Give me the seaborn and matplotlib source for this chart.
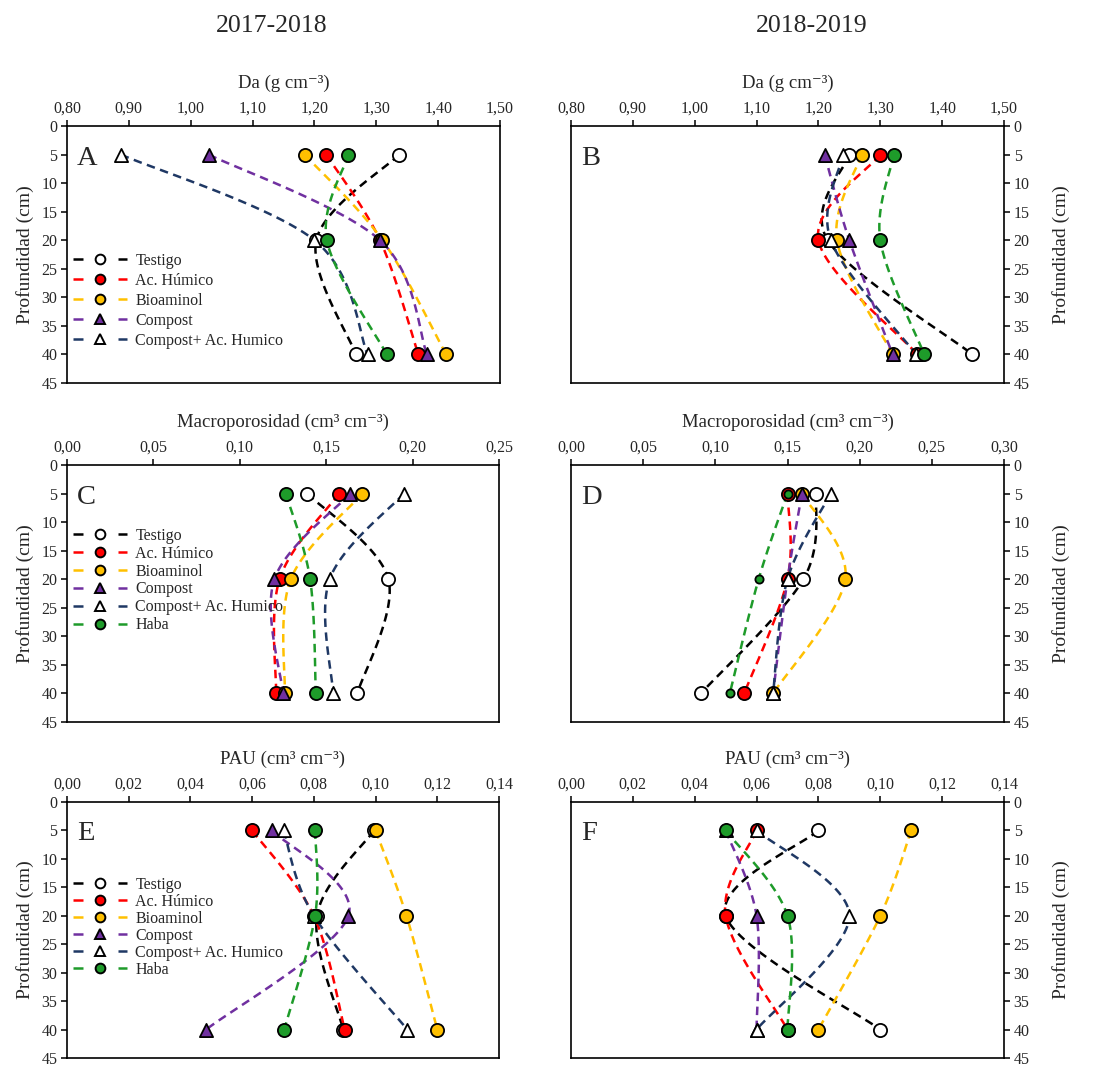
import numpy as np
import matplotlib
matplotlib.use("Agg")
import matplotlib.pyplot as plt
from matplotlib.lines import Line2D
import seaborn as sns

# ---------------- data ----------------
depths = [5, 20, 40]
series_names = ["Testigo", "Ac. Húmico", "Bioaminol", "Compost", "Compost+ Ac. Humico", "Haba"]

# Panel A: Da 2017-2018
da_1718_testigo = [1.337, 1.203, 1.267]
da_1718_achumico = [1.219, 1.306, 1.368]
da_1718_bioaminol = [1.184, 1.310, 1.413]
da_1718_compost = [1.029, 1.306, 1.382]
da_1718_compost_ach = [0.887, 1.200, 1.286]
da_1718_haba = [1.255, 1.220, 1.317]

# Panel B: Da 2018-2019
da_1819_testigo = [1.250, 1.215, 1.449]
da_1819_achumico = [1.300, 1.200, 1.360]
da_1819_bioaminol = [1.270, 1.230, 1.320]
da_1819_compost = [1.210, 1.250, 1.320]
da_1819_compost_ach = [1.240, 1.220, 1.358]
da_1819_haba = [1.322, 1.300, 1.371]

# Panel C: Macroporosidad 2017-2018
mp_1718_testigo = [0.139, 0.186, 0.168]
mp_1718_achumico = [0.1575, 0.123, 0.121]
mp_1718_bioaminol = [0.171, 0.1295, 0.126]
mp_1718_compost = [0.164, 0.120, 0.125]
mp_1718_compost_ach = [0.195, 0.152, 0.154]
mp_1718_haba = [0.1266, 0.1407, 0.144]

# Panel D: Macroporosidad 2018-2019
mp_1819_testigo = [0.170, 0.161, 0.090]
mp_1819_achumico = [0.150, 0.150, 0.120]
mp_1819_bioaminol = [0.160, 0.190, 0.140]
mp_1819_compost = [0.160, 0.150, 0.140]
mp_1819_compost_ach = [0.180, 0.150, 0.140]
mp_1819_haba = [0.150, 0.130, 0.110]

# Panel E: PAU 2017-2018
pau_1718_testigo = [0.0995, 0.081, 0.0895]
pau_1718_achumico = [0.060, 0.080, 0.090]
pau_1718_bioaminol = [0.100, 0.110, 0.120]
pau_1718_compost = [0.0664, 0.0912, 0.0451]
pau_1718_compost_ach = [0.0702, 0.080, 0.1103]
pau_1718_haba = [0.0804, 0.0804, 0.0704]

# Panel F: PAU 2018-2019
pau_1819_testigo = [0.080, 0.050, 0.100]
pau_1819_achumico = [0.060, 0.050, 0.070]
pau_1819_bioaminol = [0.110, 0.100, 0.080]
pau_1819_compost = [0.050, 0.060, 0.060]
pau_1819_compost_ach = [0.060, 0.090, 0.060]
pau_1819_haba = [0.050, 0.070, 0.070]

da_ticks = [0.80, 0.90, 1.00, 1.10, 1.20, 1.30, 1.40, 1.50]
mp_ticks_1718 = [0.00, 0.05, 0.10, 0.15, 0.20, 0.25]
mp_ticks_1819 = [0.00, 0.05, 0.10, 0.15, 0.20, 0.25, 0.30]
pau_ticks = [0.00, 0.02, 0.04, 0.06, 0.08, 0.10, 0.12, 0.14]
depth_ticks = [0, 5, 10, 15, 20, 25, 30, 35, 40, 45]

# ---------------- style ----------------
sns.set_theme(style="ticks")
plt.rcParams["font.family"] = ["Liberation Serif", "DejaVu Serif"]
plt.rcParams["mathtext.default"] = "regular"

line_colors = ["#000000", "#FF0000", "#FFC000", "#7030A0", "#1F3864", "#1E9B2A"]
face_colors = ["#FFFFFF", "#FF0000", "#FFC000", "#7030A0", "#FFFFFF", "#1E9B2A"]
markers = ["o", "o", "o", "^", "^", "o"]

W, H = 1098, 1066
fig = plt.figure(figsize=(W / 100, H / 100), dpi=100)


def add_ax(l, r, t, b):
    return fig.add_axes([l / W, 1 - b / H, (r - l) / W, (b - t) / H])


def smooth(xs, ys, n=40):
    # Bezier smoothing similar to spreadsheet "smoothed line"
    pts = np.column_stack([xs, ys]).astype(float)
    out = []
    m = len(pts)
    for i in range(m - 1):
        p0 = pts[i - 1] if i > 0 else pts[i]
        p1 = pts[i]
        p2 = pts[i + 1]
        p3 = pts[i + 2] if i + 2 < m else pts[i + 1]
        c1 = p1 + (p2 - p0) / 6.0
        c2 = p2 - (p3 - p1) / 6.0
        t = np.linspace(0, 1, n)[:, None]
        seg = ((1 - t) ** 3) * p1 + 3 * ((1 - t) ** 2) * t * c1 + 3 * (1 - t) * t ** 2 * c2 + t ** 3 * p2
        out.append(seg if i == 0 else seg[1:])
    arr = np.vstack(out)
    return arr[:, 0], arr[:, 1]


def fmt(v):
    return f"{v:.2f}".replace(".", ",")


def draw_panel(ax, data, xticks, xlabel, letter, right, legend_n=0, leg_y=0.5,
               leg_space=0.1, small_haba=False):
    for i, vals in enumerate(data):
        sx, sy = smooth(vals, depths)
        ax.plot(sx, sy, color=line_colors[i], lw=1.8, dashes=(3.4, 2.2),
                dash_capstyle="butt", zorder=2)
    for i, vals in enumerate(data):
        size = 90
        if small_haba and i == 5:
            size = 35
        sns.scatterplot(x=vals, y=depths, ax=ax, marker=markers[i], s=size,
                        color=face_colors[i], edgecolor="black", linewidth=1.3,
                        zorder=3 + i * 0.01, legend=False)
    ax.set_xlim(xticks[0], xticks[-1])
    ax.set_ylim(45, 0)
    ax.set_xticks(xticks)
    ax.set_xticklabels([fmt(v) for v in xticks])
    ax.set_yticks(depth_ticks)
    ax.set_yticklabels([str(d) for d in depth_ticks])
    ax.xaxis.tick_top()
    ax.xaxis.set_label_position("top")
    ax.set_xlabel(xlabel, fontsize=13.5, labelpad=9)
    ax.tick_params(axis="both", direction="out", length=4, width=1.1,
                   labelsize=11.5, color="black", pad=3)
    if right:
        ax.yaxis.tick_right()
        ax.yaxis.set_label_position("right")
        ax.set_ylabel("Profundidad (cm)", fontsize=14, labelpad=16)
    else:
        ax.set_ylabel("Profundidad (cm)", fontsize=14, labelpad=5)
    for sp in ax.spines.values():
        sp.set_visible(True)
        sp.set_linewidth(1.2)
        sp.set_color("black")
    ax.grid(False)
    ax.set_facecolor("white")
    ax.text(0.023, 0.875, letter, transform=ax.transAxes, fontsize=20.5,
            va="center", ha="left")
    if legend_n:
        handles = []
        for i in range(legend_n):
            handles.append(Line2D([0], [0], color=line_colors[i], lw=1.8,
                                  dashes=(4, 14), marker=markers[i],
                                  markersize=7, markerfacecolor=face_colors[i],
                                  markeredgecolor="black", markeredgewidth=1.4))
        ax.legend(handles, series_names[:legend_n], loc="upper left",
                  bbox_to_anchor=(0.014, leg_y), frameon=False, fontsize=11.5,
                  handlelength=3.4, handletextpad=0.5, labelspacing=leg_space,
                  borderpad=0, borderaxespad=0, numpoints=1)


da_lab = "Da (g cm⁻³)"
mp_lab = "Macroporosidad (cm³ cm⁻³)"
pau_lab = "PAU (cm³ cm⁻³)"

axA = add_ax(67, 500, 126, 383)
draw_panel(axA, [da_1718_testigo, da_1718_achumico, da_1718_bioaminol,
                 da_1718_compost, da_1718_compost_ach, da_1718_haba],
           da_ticks, da_lab, "A", False, legend_n=5, leg_y=0.507, leg_space=0.25)

axB = add_ax(571, 1004, 126, 383)
draw_panel(axB, [da_1819_testigo, da_1819_achumico, da_1819_bioaminol,
                 da_1819_compost, da_1819_compost_ach, da_1819_haba],
           da_ticks, da_lab, "B", True)

axC = add_ax(67, 499, 465, 722)
draw_panel(axC, [mp_1718_testigo, mp_1718_achumico, mp_1718_bioaminol,
                 mp_1718_compost, mp_1718_compost_ach, mp_1718_haba],
           mp_ticks_1718, mp_lab, "C", False, legend_n=6, leg_y=0.756, leg_space=0.12)

axD = add_ax(571, 1004, 465, 722)
draw_panel(axD, [mp_1819_testigo, mp_1819_achumico, mp_1819_bioaminol,
                 mp_1819_compost, mp_1819_compost_ach, mp_1819_haba],
           mp_ticks_1819, mp_lab, "D", True, small_haba=True)

axE = add_ax(67, 499, 802, 1058)
draw_panel(axE, [pau_1718_testigo, pau_1718_achumico, pau_1718_bioaminol,
                 pau_1718_compost, pau_1718_compost_ach, pau_1718_haba],
           pau_ticks, pau_lab, "E", False, legend_n=6, leg_y=0.707, leg_space=0.06)

axF = add_ax(571, 1004, 802, 1058)
draw_panel(axF, [pau_1819_testigo, pau_1819_achumico, pau_1819_bioaminol,
                 pau_1819_compost, pau_1819_compost_ach, pau_1819_haba],
           pau_ticks, pau_lab, "F", True)

fig.text(272 / W, 1 - 26 / H, "2017-2018", fontsize=18.5, ha="center", va="center")
fig.text(812 / W, 1 - 26 / H, "2018-2019", fontsize=18.5, ha="center", va="center")

fig.savefig("out.png", dpi=100, facecolor="white")
